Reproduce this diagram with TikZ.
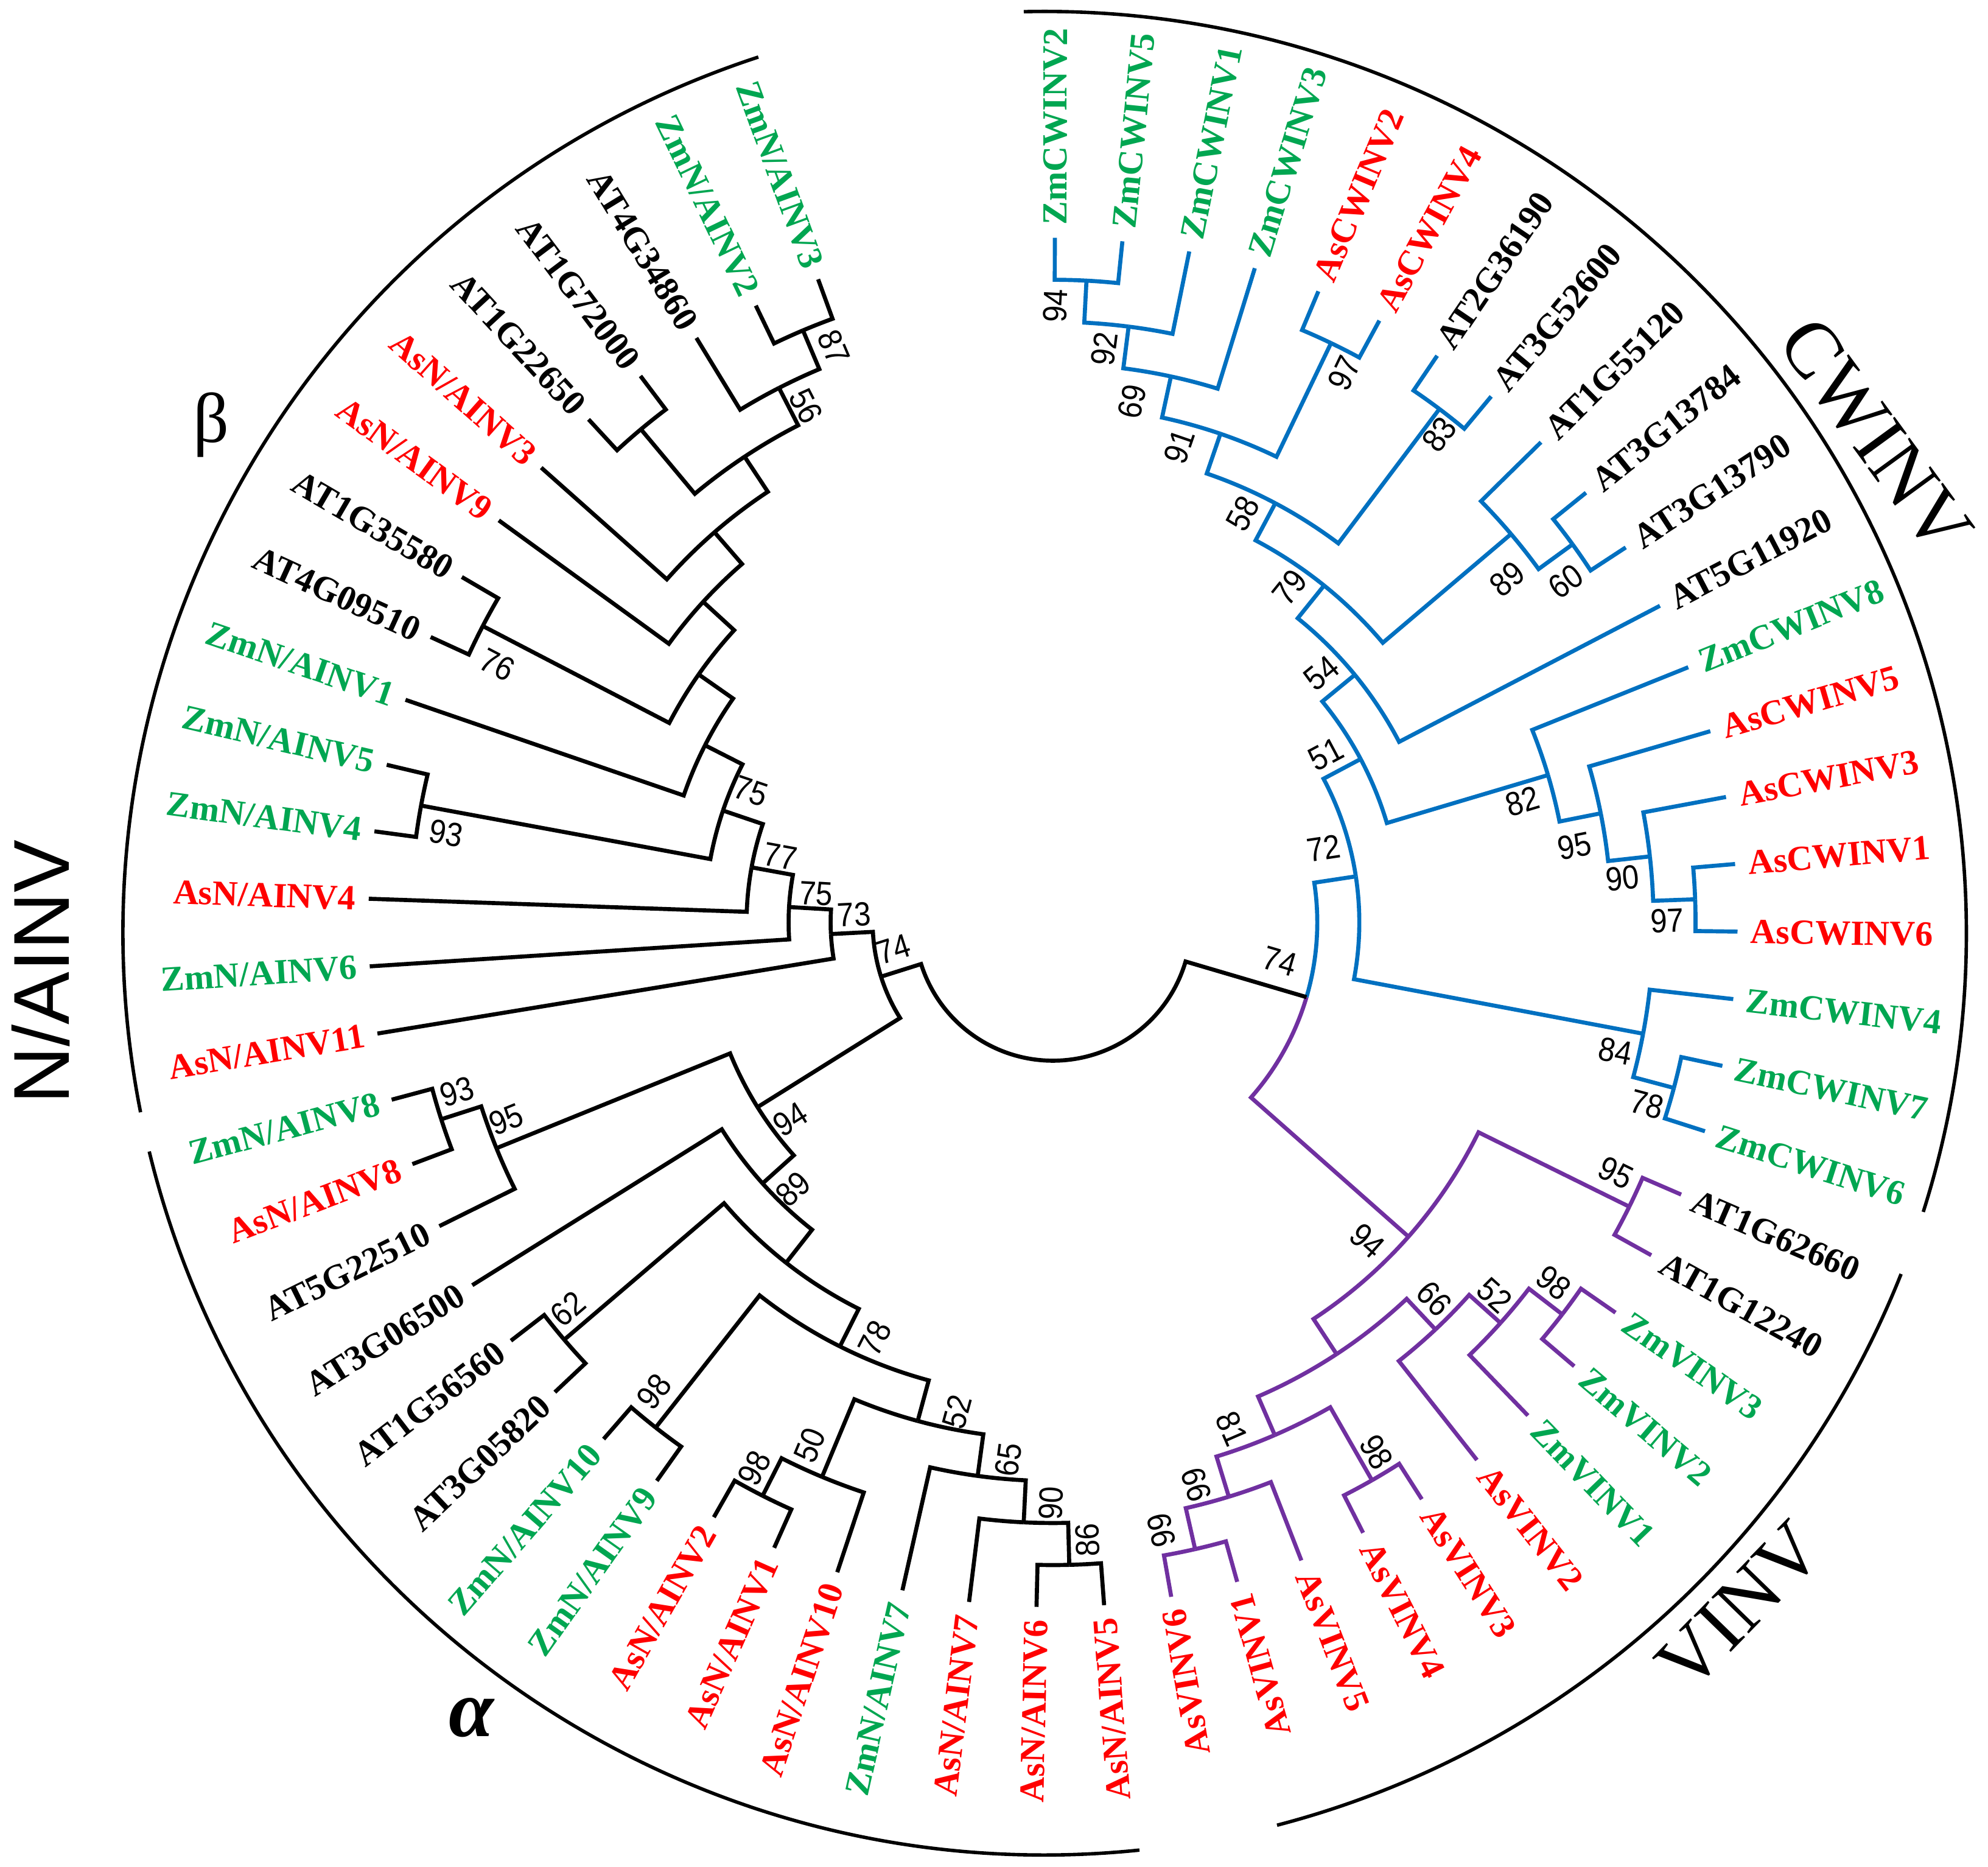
\documentclass[tikz,border=0pt]{standalone}
\usepackage{fontspec}
\setmainfont{Liberation Serif}
\setsansfont{Liberation Sans}

\definecolor{zmgreen}{RGB}{0,166,81}
\definecolor{asred}{RGB}{255,0,0}
\definecolor{cwblue}{RGB}{0,112,192}
\definecolor{vipurple}{RGB}{112,48,160}

\newcommand{\taxfont}{\fontsize{16.5}{18}\selectfont\bfseries}
\newcommand{\bootfont}{\fontsize{14}{15}\selectfont\sffamily}
\newcommand{\groupfont}{\fontsize{37}{40}\selectfont}

\tikzset{
  branch/.style={line width=1.9pt},
  grouparc/.style={line width=1.6pt},
  taxlab/.style={font=\taxfont, inner sep=0pt, text height=10.9pt, text depth=0pt},
  boot/.style={font=\bootfont, inner sep=0pt, text height=10pt, text depth=0pt, rotate=#1, yscale=1.12},
  grouplab/.style={font=\groupfont, inner sep=0pt}
}

% leaf: position round the circle (also its name), colour, label
\newcommand{\taxon}[3]{%
  \pgfmathsetmacro{\tang}{89.84-5.663*#1}%
  \expandafter\xdef\csname ang@#1\endcsname{\tang}%
  \expandafter\xdef\csname hgt@#1\endcsname{0}%
  \coordinate (#1) at (\tang:540);
  \ifdim\tang pt>-70pt
    \node[taxlab, text=#2, anchor=west, rotate=\tang] (#1-t) at (\tang:550) {#3};
  \else
    \pgfmathsetmacro{\tflip}{\tang+180}%
    \node[taxlab, text=#2, anchor=east, rotate=\tflip] (#1-t) at (\tang:550) {#3};
  \fi
}

% clade: [colour of second half], name, first child, second child
\newcommand{\clade}[4][]{%
  \edef\aA{\csname ang@#3\endcsname}%
  \edef\aB{\csname ang@#4\endcsname}%
  \edef\hA{\csname hgt@#3\endcsname}%
  \edef\hB{\csname hgt@#4\endcsname}%
  \pgfmathsetmacro{\cang}{(\aA+\aB)/2}%
  \pgfmathtruncatemacro{\chgt}{max(\hA,\hB)+1}%
  \pgfmathsetmacro{\crad}{540-33.15*\chgt}%
  \expandafter\xdef\csname ang@#2\endcsname{\cang}%
  \expandafter\xdef\csname hgt@#2\endcsname{\chgt}%
  \coordinate (#2) at (\cang:\crad);
  \coordinate (#2-a) at (\aA:\crad);
  \coordinate (#2-b) at (\aB:\crad);
  \draw[branch] (#3) -- (#2-a) arc[start angle=\aA, end angle=\cang, radius=\crad];
  \draw[branch,#1] (#2) arc[start angle=\cang, end angle=\aB, radius=\crad] -- (#4);
}

\begin{document}
\begin{tikzpicture}[x=0.020829cm, y=0.020829cm]
  \fill[white] (-830.5,-744.5) rectangle (737.5,727.5);
  \useasboundingbox (-830.5,-744.5) rectangle (737.5,727.5);

  \taxon{0}{zmgreen}{ZmCWINV2}
  \taxon{1}{zmgreen}{ZmCWINV5}
  \taxon{2}{zmgreen}{ZmCWINV1}
  \taxon{3}{zmgreen}{ZmCWINV3}
  \taxon{4}{asred}{AsCWINV2}
  \taxon{5}{asred}{AsCWINV4}
  \taxon{6}{black}{AT2G36190}
  \taxon{7}{black}{AT3G52600}
  \taxon{8}{black}{AT1G55120}
  \taxon{9}{black}{AT3G13784}
  \taxon{10}{black}{AT3G13790}
  \taxon{11}{black}{AT5G11920}
  \taxon{12}{zmgreen}{ZmCWINV8}
  \taxon{13}{asred}{AsCWINV5}
  \taxon{14}{asred}{AsCWINV3}
  \taxon{15}{asred}{AsCWINV1}
  \taxon{16}{asred}{AsCWINV6}
  \taxon{17}{zmgreen}{ZmCWINV4}
  \taxon{18}{zmgreen}{ZmCWINV7}
  \taxon{19}{zmgreen}{ZmCWINV6}
  \taxon{20}{black}{AT1G62660}
  \taxon{21}{black}{AT1G12240}
  \taxon{22}{zmgreen}{ZmVINV3}
  \taxon{23}{zmgreen}{ZmVINV2}
  \taxon{24}{zmgreen}{ZmVINV1}
  \taxon{25}{asred}{AsVINV2}
  \taxon{26}{asred}{AsVINV3}
  \taxon{27}{asred}{AsVINV4}
  \taxon{28}{asred}{AsVINV5}
  \taxon{29}{asred}{AsVINV1}
  \taxon{30}{asred}{AsVINV6}
  \taxon{31}{asred}{AsN/AINV5}
  \taxon{32}{asred}{AsN/AINV6}
  \taxon{33}{asred}{AsN/AINV7}
  \taxon{34}{zmgreen}{ZmN/AINV7}
  \taxon{35}{asred}{AsN/AINV10}
  \taxon{36}{asred}{AsN/AINV1}
  \taxon{37}{asred}{AsN/AINV2}
  \taxon{38}{zmgreen}{ZmN/AINV9}
  \taxon{39}{zmgreen}{ZmN/AINV10}
  \taxon{40}{black}{AT3G05820}
  \taxon{41}{black}{AT1G56560}
  \taxon{42}{black}{AT3G06500}
  \taxon{43}{black}{AT5G22510}
  \taxon{44}{asred}{AsN/AINV8}
  \taxon{45}{zmgreen}{ZmN/AINV8}
  \taxon{46}{asred}{AsN/AINV11}
  \taxon{47}{zmgreen}{ZmN/AINV6}
  \taxon{48}{asred}{AsN/AINV4}
  \taxon{49}{zmgreen}{ZmN/AINV4}
  \taxon{50}{zmgreen}{ZmN/AINV5}
  \taxon{51}{zmgreen}{ZmN/AINV1}
  \taxon{52}{black}{AT4G09510}
  \taxon{53}{black}{AT1G35580}
  \taxon{54}{asred}{AsN/AINV9}
  \taxon{55}{asred}{AsN/AINV3}
  \taxon{56}{black}{AT1G22650}
  \taxon{57}{black}{AT1G72000}
  \taxon{58}{black}{AT4G34860}
  \taxon{59}{zmgreen}{ZmN/AINV2}
  \taxon{60}{zmgreen}{ZmN/AINV3}

  % CWINV
  \begin{scope}[cwblue]
    \clade{cw94}{0}{1}
    \clade{cw92}{cw94}{2}
    \clade{cw69}{cw92}{3}
    \clade{cw97a}{4}{5}
    \clade{cw91}{cw69}{cw97a}
    \clade{cw83}{6}{7}
    \clade{cw58}{cw91}{cw83}
    \clade{cw60}{9}{10}
    \clade{cw89}{8}{cw60}
    \clade{cw79}{cw58}{cw89}
    \clade{cw54}{cw79}{11}
    \clade{cw97b}{15}{16}
    \clade{cw90}{14}{cw97b}
    \clade{cw95}{13}{cw90}
    \clade{cw82}{12}{cw95}
    \clade{cw51}{cw54}{cw82}
    \clade{cw78}{18}{19}
    \clade{cw84}{17}{cw78}
    \clade{cw72}{cw51}{cw84}
  \end{scope}

  % VINV
  \begin{scope}[vipurple]
    \clade{vi95}{20}{21}
    \clade{vi98a}{22}{23}
    \clade{vi52}{vi98a}{24}
    \clade{vi66}{vi52}{25}
    \clade{vi98b}{26}{27}
    \clade{vi99b}{29}{30}
    \clade{vi99a}{28}{vi99b}
    \clade{vi81}{vi98b}{vi99a}
    \clade{vix}{vi66}{vi81}
    \clade{vi94}{vi95}{vix}
  \end{scope}
  \begin{scope}[cwblue]
    \clade[vipurple]{r74}{cw72}{vi94}
  \end{scope}

  % N/AINV
  \clade{na86}{31}{32}
  \clade{na90}{33}{na86}
  \clade{na65}{34}{na90}
  \clade{na98c}{36}{37}
  \clade{na50}{35}{na98c}
  \clade{na52}{na65}{na50}
  \clade{na98d}{38}{39}
  \clade{na78}{na52}{na98d}
  \clade{na62}{40}{41}
  \clade{naw}{na78}{na62}
  \clade{na89}{naw}{42}
  \clade{na93b}{44}{45}
  \clade{na95}{43}{na93b}
  \clade{na94}{na89}{na95}
  \clade{na76}{52}{53}
  \clade{na87}{59}{60}
  \clade{na56}{58}{na87}
  \clade{na5657}{56}{57}
  \clade{naz}{na5657}{na56}
  \clade{nay}{55}{naz}
  \clade{nax}{54}{nay}
  \clade{nar}{na76}{nax}
  \clade{naq}{51}{nar}
  \clade{na93a}{49}{50}
  \clade{na75a}{na93a}{naq}
  \clade{na77}{48}{na75a}
  \clade{na75b}{47}{na77}
  \clade{na73}{46}{na75b}
  \clade{l74}{na94}{na73}
  \clade{root}{r74}{l74}

  % bootstrap values
  \node[boot=87.0] (b-cw94) at (1.5,486.5) {94};
  \node[boot=82.8] (b-cw92) at (40.3,452.6) {92};
  \node[boot=77.8] (b-cw69) at (62.2,410.8) {69};
  \node[boot=71.1] (b-cw91) at (99.2,375.5) {91};
  \node[boot=62.1] (b-cw58) at (149.5,322.5) {58};
  \node[boot=64.4] (b-cw97a) at (229.5,433.4) {97};
  \node[boot=53.0] (b-cw83) at (304.4,385.1) {83};
  \node[boot=40.3] (b-cw89) at (357.9,271.0) {89};
  \node[boot=36.0] (b-cw60) at (404.3,269.4) {60};
  \node[boot=51.2] (b-cw79) at (186.5,264.5) {79};
  \node[boot=39.4] (b-cw54) at (211.6,196.9) {54};
  \node[boot=28.0] (b-cw51) at (215.1,132.9) {51};
  \node[boot=8.6] (b-cw72) at (213.3,58.9) {72};
  \node[boot=16.6] (b-cw82) at (370.4,95.9) {82};
  \node[boot=11.3] (b-cw95) at (411.5,60.5) {95};
  \node[boot=6.3] (b-cw90) at (449,35.3) {90};
  \node[boot=2.1] (b-cw97b) at (484.6,1.6) {97};
  \node[boot=-10.7] (b-cw84) at (443.6,-101.1) {84};
  \node[boot=-14.9] (b-cw78) at (468.6,-143.2) {78};
  \node[boot=-16.4] (b-r74) at (179,-30.4) {74};
  \node[boot=-26.3] (b-vi95) at (444.1,-197.1) {95};
  \node[boot=-41.5] (b-vi94) at (248.2,-251) {94};
  \node[boot=-46.8] (b-vi66) at (300.9,-296.4) {66};
  \node[boot=-41.8] (b-vi52) at (348.6,-293.9) {52};
  \node[boot=-37.6] (b-vi98a) at (395.1,-284.1) {98};
  \node[boot=-66.6] (b-vi81) at (141.3,-399.1) {81};
  \node[boot=-60.2] (b-vi98b) at (255.5,-417.6) {98};
  \node[boot=107.0] (b-vi99a) at (112.5,-443.5) {99};
  \node[boot=102.8] (b-vi99b) at (85,-479.5) {99};
  \node[boot=91.45] (b-na86) at (26.8,-487.2) {86};
  \node[boot=87.2] (b-na90) at (-1.9,-457.9) {90};
  \node[boot=82.25] (b-na65) at (-35.5,-423.6) {65};
  \node[boot=74.8] (b-na52) at (-76,-386) {52};
  \node[boot=67.4] (b-na50) at (-192.1,-412.1) {50};
  \node[boot=63.1] (b-na98c) at (-235.9,-430.1) {98};
  \node[boot=63.3] (b-na78) at (-140.8,-327.7) {78};
  \node[boot=51.8] (b-na98d) at (-315,-369.7) {98};
  \node[boot=40.5] (b-na62) at (-382.6,-304.5) {62};
  \node[boot=42] (b-na89) at (-205.1,-210.1) {89};
  \node[boot=32] (b-na94) at (-207.3,-155) {94};
  \node[boot=22.1] (b-na95) at (-431.4,-155) {95};
  \node[boot=17.8] (b-na93b) at (-470.1,-133.1) {93};
  \node[boot=17.5] (b-l74) at (-125.8,-20.9) {74};
  \node[boot=3] (b-na73) at (-156.9,6.7) {73};
  \node[boot=-3.3] (b-na75b) at (-186.9,23.2) {75};
  \node[boot=-10.4] (b-na77) at (-214.8,52.6) {77};
  \node[boot=-18.7] (b-na75a) at (-238.3,104) {75};
  \node[boot=-10.5] (b-na93a) at (-478.6,70.6) {93};
  \node[boot=-27.5] (b-na76) at (-438.1,203.6) {76};
  \node[boot=-62.8] (b-na56) at (-194.6,407.4) {56};
  \node[boot=-67.0] (b-na87) at (-172.6,453.9) {87};

  % family arcs and names
  \begin{scope}[shift={(-6.5,-8.5)}]
    \draw[grouparc] (91.3:727) arc[start angle=91.3, end angle=-17.6, radius=727];
    \draw[grouparc] (-21.7:727) arc[start angle=-21.7, end angle=-75.4, radius=727];
    \draw[grouparc] (-84.1:727) arc[start angle=-84.1, end angle=-166.3, radius=727];
    \draw[grouparc] (108.1:727) arc[start angle=108.1, end angle=191.2, radius=727];
  \end{scope}
  \node[grouplab, rotate=-53.9] (cwinv) at (649,384) {CWINV};
  \node[grouplab, rotate=45.8] (vinv) at (541.8,-539.4) {VINV};
  \node[grouplab, font=\groupfont\sffamily, rotate=90] (nainv) at (-798.5,-38.9) {N/AINV};
  \node[grouplab, font=\fontsize{33}{35}\selectfont] (beta) at (-663.9,392.4) {β};
  \node[grouplab, font=\fontsize{38}{40}\selectfont\bfseries\itshape] (alpha) at (-458.5,-627.3) {α};
\end{tikzpicture}
\end{document}
